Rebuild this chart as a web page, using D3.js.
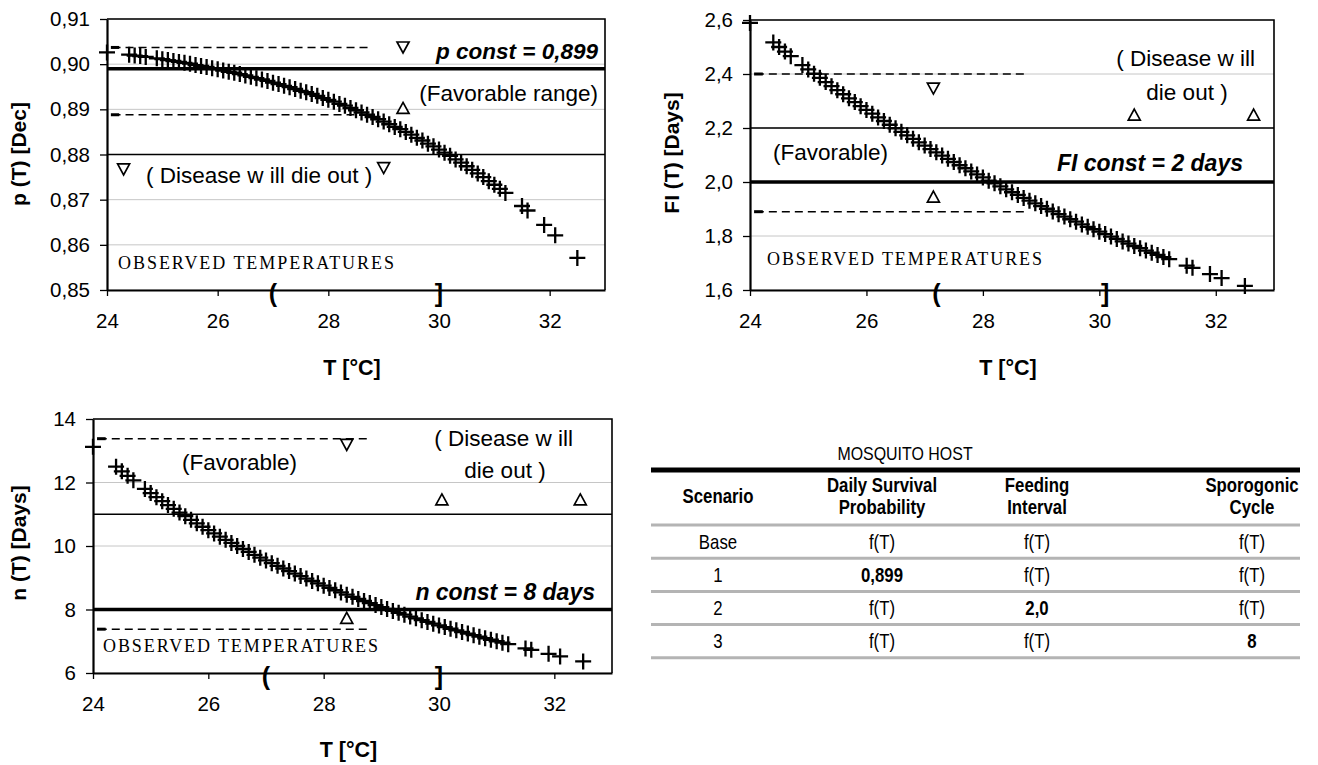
<!DOCTYPE html>
<html>
<head>
<meta charset="utf-8">
<script src="https://cdn.jsdelivr.net/npm/d3@7"></script>
<style>
  body { margin: 0; background: #fff; }
  svg text { font-family: "Liberation Sans", Arial, sans-serif; fill: #000; }
</style>
</head>
<body>
<svg id="fig" width="1318" height="765"></svg>
<script>
// temperatures of the observed days (deg C)
const temps = [24.0, 24.4, 24.5, 24.6, 24.7, 24.9, 25.0, 25.1, 25.2, 25.3, 25.4, 25.5, 25.6, 25.7, 25.8, 25.9,
  26.0, 26.1, 26.2, 26.3, 26.4, 26.5, 26.6, 26.7, 26.8, 26.9, 27.0, 27.1, 27.2, 27.3, 27.4, 27.5, 27.6, 27.7, 27.8, 27.9,
  28.0, 28.1, 28.2, 28.3, 28.4, 28.5, 28.6, 28.7, 28.8, 28.9, 29.0, 29.1, 29.2, 29.3, 29.4, 29.5, 29.6, 29.7, 29.8, 29.9,
  30.0, 30.1, 30.2, 30.3, 30.4, 30.5, 30.6, 30.7, 30.8, 30.9, 31.0, 31.1, 31.2, 31.5, 31.6, 31.9, 32.1, 32.5];

// daily survival probability p(T)
const survivalP = [0.9026, 0.9021, 0.9019, 0.9018, 0.9016, 0.9013, 0.9011, 0.9009, 0.9007, 0.9005, 0.9003, 0.9001, 0.8998, 0.8996, 0.8994, 0.8991,
  0.8989, 0.8986, 0.8983, 0.8981, 0.8978, 0.8975, 0.8972, 0.8969, 0.8966, 0.8963, 0.8959, 0.8956, 0.8952, 0.8949, 0.8945, 0.8941, 0.8938, 0.8934, 0.8930, 0.8925,
  0.8921, 0.8917, 0.8912, 0.8908, 0.8903, 0.8898, 0.8893, 0.8888, 0.8883, 0.8878, 0.8873, 0.8867, 0.8861, 0.8856, 0.8850, 0.8844, 0.8837, 0.8831, 0.8824, 0.8818,
  0.8811, 0.8804, 0.8797, 0.8789, 0.8782, 0.8774, 0.8766, 0.8758, 0.8750, 0.8741, 0.8733, 0.8724, 0.8715, 0.8686, 0.8676, 0.8644, 0.8621, 0.8571];

// feeding interval FI(T), days
const feedingFI = [2.589, 2.517, 2.500, 2.483, 2.466, 2.433, 2.417, 2.401, 2.386, 2.370, 2.355, 2.340, 2.325, 2.310, 2.296, 2.281,
  2.267, 2.253, 2.239, 2.226, 2.212, 2.199, 2.186, 2.173, 2.160, 2.147, 2.135, 2.122, 2.110, 2.098, 2.086, 2.074, 2.062, 2.051, 2.039, 2.028,
  2.017, 2.005, 1.995, 1.984, 1.973, 1.962, 1.952, 1.941, 1.931, 1.921, 1.911, 1.901, 1.891, 1.881, 1.872, 1.862, 1.853, 1.843, 1.834, 1.825,
  1.816, 1.807, 1.798, 1.789, 1.780, 1.772, 1.763, 1.755, 1.746, 1.738, 1.730, 1.722, 1.714, 1.690, 1.682, 1.659, 1.644, 1.615];

// sporogonic cycle n(T), days
const sporogonicN = [13.125, 12.500, 12.353, 12.209, 12.069, 11.798, 11.667, 11.538, 11.413, 11.290, 11.170, 11.053, 10.938, 10.825, 10.714, 10.606,
  10.500, 10.396, 10.294, 10.194, 10.096, 10.000, 9.906, 9.813, 9.722, 9.633, 9.545, 9.459, 9.375, 9.292, 9.211, 9.130, 9.052, 8.974, 8.898, 8.824,
  8.750, 8.678, 8.607, 8.537, 8.468, 8.400, 8.333, 8.268, 8.203, 8.140, 8.077, 8.015, 7.955, 7.895, 7.836, 7.778, 7.721, 7.664, 7.609, 7.554,
  7.500, 7.447, 7.394, 7.343, 7.292, 7.241, 7.192, 7.143, 7.095, 7.047, 7.000, 6.954, 6.908, 6.774, 6.731, 6.604, 6.522, 6.364];

const tTicks = [24, 26, 28, 30, 32];
const pTicks = [0.85, 0.86, 0.87, 0.88, 0.89, 0.90, 0.91];
const fiTicks = [1.6, 1.8, 2.0, 2.2, 2.4, 2.6];
const nTicks = [6, 8, 10, 12, 14];

// levels: [constant scenario, threshold, upper dashed, lower dashed]
const pLevels = [0.899, 0.88, 0.9037, 0.8888];
const fiLevels = [2.0, 2.2, 2.4, 1.89];
const nLevels = [8, 11, 13.38, 7.38];
const dashedSpan = [24.1, 28.75];

// triangle marks: [T, value, direction]
const pTriangles = [[29.35, 0.9038, "down"], [29.35, 0.8902, "up"], [29.0, 0.8771, "down"], [24.3, 0.8768, "down"]];
const fiTriangles = [[27.15, 2.348, "down"], [27.15, 1.944, "up"], [30.6, 2.248, "up"], [32.65, 2.248, "up"]];
const nTriangles = [[28.4, 13.2, "down"], [30.05, 11.45, "up"], [32.45, 11.45, "up"], [28.4, 7.72, "up"]];

// observed temperature range
const pObserved = [27, 30];
const fiObserved = [27.2, 30.1];
const nObserved = [27, 30];

// table
const tableTitle = "MOSQUITO HOST";
const tableHeaders = [["Scenario"], ["Daily Survival", "Probability"], ["Feeding", "Interval"], ["Sporogonic", "Cycle"]];
const tableRows = [
  ["Base", "f(T)", "f(T)", "f(T)"],
  ["1", "0,899", "f(T)", "f(T)"],
  ["2", "f(T)", "2,0", "f(T)"],
  ["3", "f(T)", "f(T)", "8"]
];

const svg = d3.select("#fig");
const comma = (spec) => (d) => d3.format(spec)(d).replace(".", ",");

function drawPanel(cfg) {
  const g = svg.append("g");
  const b = cfg.box;
  const x = d3.scaleLinear().domain([24, 33]).range([b.l, b.r]);
  const y = d3.scaleLinear().domain(d3.extent(cfg.yTicks)).range([b.b, b.t]);

  // light gridlines
  g.append("g").selectAll("line").data(cfg.yTicks).join("line")
    .attr("x1", b.l).attr("x2", b.r)
    .attr("y1", (d) => y(d)).attr("y2", (d) => y(d))
    .attr("stroke", "#c6c6c6").attr("stroke-width", 1);

  // top and right frame
  g.append("path")
    .attr("d", `M${b.l},${b.t}H${b.r}V${b.b}`)
    .attr("fill", "none").attr("stroke", "#000").attr("stroke-width", 1.6);

  // threshold (thin) and constant (thick) lines
  g.append("line")
    .attr("x1", b.l).attr("x2", b.r)
    .attr("y1", y(cfg.levels[1])).attr("y2", y(cfg.levels[1]))
    .attr("stroke", "#000").attr("stroke-width", 1.6);
  g.append("line")
    .attr("x1", b.l).attr("x2", b.r)
    .attr("y1", y(cfg.levels[0])).attr("y2", y(cfg.levels[0]))
    .attr("stroke", "#000").attr("stroke-width", 3.6);

  // dashed favourable band
  [cfg.levels[2], cfg.levels[3]].forEach((lv) => {
    g.append("line")
      .attr("x1", x(dashedSpan[0])).attr("x2", x(dashedSpan[1]))
      .attr("y1", y(lv)).attr("y2", y(lv))
      .attr("stroke", "#000").attr("stroke-width", 1.5)
      .attr("stroke-dasharray", "8,5");
    g.append("line")
      .attr("x1", x(24.07)).attr("x2", x(24.22))
      .attr("y1", y(lv)).attr("y2", y(lv))
      .attr("stroke", "#000").attr("stroke-width", 3);
  });

  // axes
  const yAxis = g.append("g")
    .attr("transform", `translate(${b.l},0)`)
    .call(d3.axisLeft(y).tickValues(cfg.yTicks).tickFormat(cfg.fmt).tickSize(7).tickSizeOuter(0).tickPadding(10));
  const xAxis = g.append("g")
    .attr("transform", `translate(0,${b.b})`)
    .call(d3.axisBottom(x).tickValues(tTicks).tickSize(6).tickSizeOuter(0).tickPadding(17));
  [yAxis, xAxis].forEach((a) => {
    a.select(".domain").attr("stroke-width", 2.2);
    a.selectAll(".tick line").attr("stroke-width", 1.3);
    a.selectAll("text")
      .attr("font-size", 20.5)
      .attr("font-family", "'Liberation Sans', Arial, sans-serif");
  });

  // data markers
  g.append("g").selectAll("path").data(d3.zip(temps, cfg.values)).join("path")
    .attr("transform", (d) => `translate(${x(d[0])},${y(d[1])})`)
    .attr("d", "M-8,0H8M0,-8V8")
    .attr("stroke", "#000").attr("stroke-width", 2.3).attr("fill", "none");

  // triangles
  g.append("g").selectAll("path").data(cfg.triangles).join("path")
    .attr("transform", (d) => `translate(${x(d[0])},${y(d[1])})`)
    .attr("d", (d) => d[2] === "down" ? "M-6,-5L6,-5L0,6Z" : "M0,-6L6,5L-6,5Z")
    .attr("fill", "#fff").attr("stroke", "#000").attr("stroke-width", 1.7);

  // observed range brackets
  g.append("g").selectAll("text").data([["(", cfg.observed[0]], ["]", cfg.observed[1]]]).join("text")
    .attr("x", (d) => x(d[1])).attr("y", b.b + 12)
    .attr("text-anchor", "middle")
    .attr("font-size", 25).attr("font-weight", "bold")
    .text((d) => d[0]);

  // annotations
  cfg.labels.forEach((lb) => {
    const t = g.append("text")
      .attr("x", lb.x).attr("y", lb.y)
      .attr("text-anchor", lb.anchor || "start")
      .attr("font-size", lb.size || 22.5)
      .text(lb.text);
    if (lb.bold) t.attr("font-weight", "bold");
    if (lb.italic) t.attr("font-style", "italic");
    if (lb.serif) t.style("font-family", "'Liberation Serif', 'Times New Roman', serif").attr("textLength", lb.len).attr("lengthAdjust", "spacing");
  });

  // axis titles
  g.append("text")
    .attr("transform", `translate(${cfg.yTitlePos[0]},${cfg.yTitlePos[1]}) rotate(-90)`)
    .attr("text-anchor", "middle").attr("font-size", 21).attr("font-weight", "bold")
    .text(cfg.yTitle);
  g.append("text")
    .attr("x", (b.l + b.r) / 2 - 4).attr("y", cfg.xTitleY)
    .attr("text-anchor", "middle").attr("font-size", 21.5).attr("font-weight", "bold")
    .text("T [°C]");
}

drawPanel({
  box: { l: 107, r: 605, t: 19, b: 290 },
  yTicks: pTicks, fmt: comma(".2f"), values: survivalP,
  levels: pLevels, triangles: pTriangles, observed: pObserved,
  yTitle: "p (T) [Dec]", yTitlePos: [26, 154], xTitleY: 375,
  labels: [
    { text: "p const = 0,899", x: 598, y: 59, anchor: "end", bold: true, italic: true, size: 22.5 },
    { text: "(Favorable range)", x: 598, y: 101, anchor: "end" },
    { text: "( Disease w ill die out )", x: 146, y: 183 },
    { text: "OBSERVED TEMPERATURES", x: 118, y: 269, serif: true, size: 18, len: 276 }
  ]
});

drawPanel({
  box: { l: 750, r: 1274, t: 20, b: 290 },
  yTicks: fiTicks, fmt: comma(".1f"), values: feedingFI,
  levels: fiLevels, triangles: fiTriangles, observed: fiObserved,
  yTitle: "FI (T) [Days]", yTitlePos: [679, 153], xTitleY: 375,
  labels: [
    { text: "( Disease w ill", x: 1255, y: 66, anchor: "end" },
    { text: "die out )", x: 1187, y: 100, anchor: "middle" },
    { text: "FI const = 2 days", x: 1243, y: 171, anchor: "end", bold: true, italic: true, size: 23 },
    { text: "(Favorable)", x: 773, y: 160 },
    { text: "OBSERVED TEMPERATURES", x: 767, y: 265, serif: true, size: 18, len: 275 }
  ]
});

drawPanel({
  box: { l: 93, r: 612, t: 419, b: 673 },
  yTicks: nTicks, fmt: d3.format("d"), values: sporogonicN,
  levels: nLevels, triangles: nTriangles, observed: nObserved,
  yTitle: "n (T) [Days]", yTitlePos: [26, 543], xTitleY: 757,
  labels: [
    { text: "( Disease w ill", x: 573, y: 446, anchor: "end" },
    { text: "die out )", x: 505, y: 478, anchor: "middle" },
    { text: "(Favorable)", x: 182, y: 470 },
    { text: "n const = 8 days", x: 595, y: 600, anchor: "end", bold: true, italic: true, size: 23 },
    { text: "OBSERVED TEMPERATURES", x: 103, y: 652, serif: true, size: 18, len: 275 }
  ]
});

// ---- table ----
const tbl = svg.append("g");
const colX = [718, 882, 1037, 1252];
const tableLeft = 651, tableRight = 1300;
const headerRule = 525, rowH = 33.2;
const narrow = (sel, cx, cy) => sel.attr("transform", `translate(${cx},${cy}) scale(0.84,1)`);

narrow(tbl.append("text"), 905, 460)
  .attr("text-anchor", "middle").attr("font-size", 19).text(tableTitle);

tbl.append("line")
  .attr("x1", tableLeft).attr("x2", tableRight).attr("y1", 470).attr("y2", 470)
  .attr("stroke", "#000").attr("stroke-width", 5);

tableHeaders.forEach((lines, i) => {
  lines.forEach((s, j) => {
    const cy = lines.length === 1 ? 503 : 492 + j * 22;
    narrow(tbl.append("text"), colX[i], cy)
      .attr("text-anchor", "middle").attr("font-size", 20).attr("font-weight", "bold").text(s);
  });
});

const rules = d3.range(tableRows.length + 1).map((i) => headerRule + i * rowH);
tbl.selectAll("line.rule").data(rules).join("line")
  .attr("class", "rule")
  .attr("x1", tableLeft).attr("x2", tableRight)
  .attr("y1", (d) => d).attr("y2", (d) => d)
  .attr("stroke", "#b4b4b4").attr("stroke-width", 3);

tableRows.forEach((row, r) => {
  row.forEach((cell, c) => {
    narrow(tbl.append("text"), colX[c], headerRule + r * rowH + rowH / 2 + 7)
      .attr("text-anchor", "middle").attr("font-size", 20)
      .attr("font-weight", c > 0 && cell !== "f(T)" ? "bold" : "normal")
      .text(cell);
  });
});
</script>
</body>
</html>
